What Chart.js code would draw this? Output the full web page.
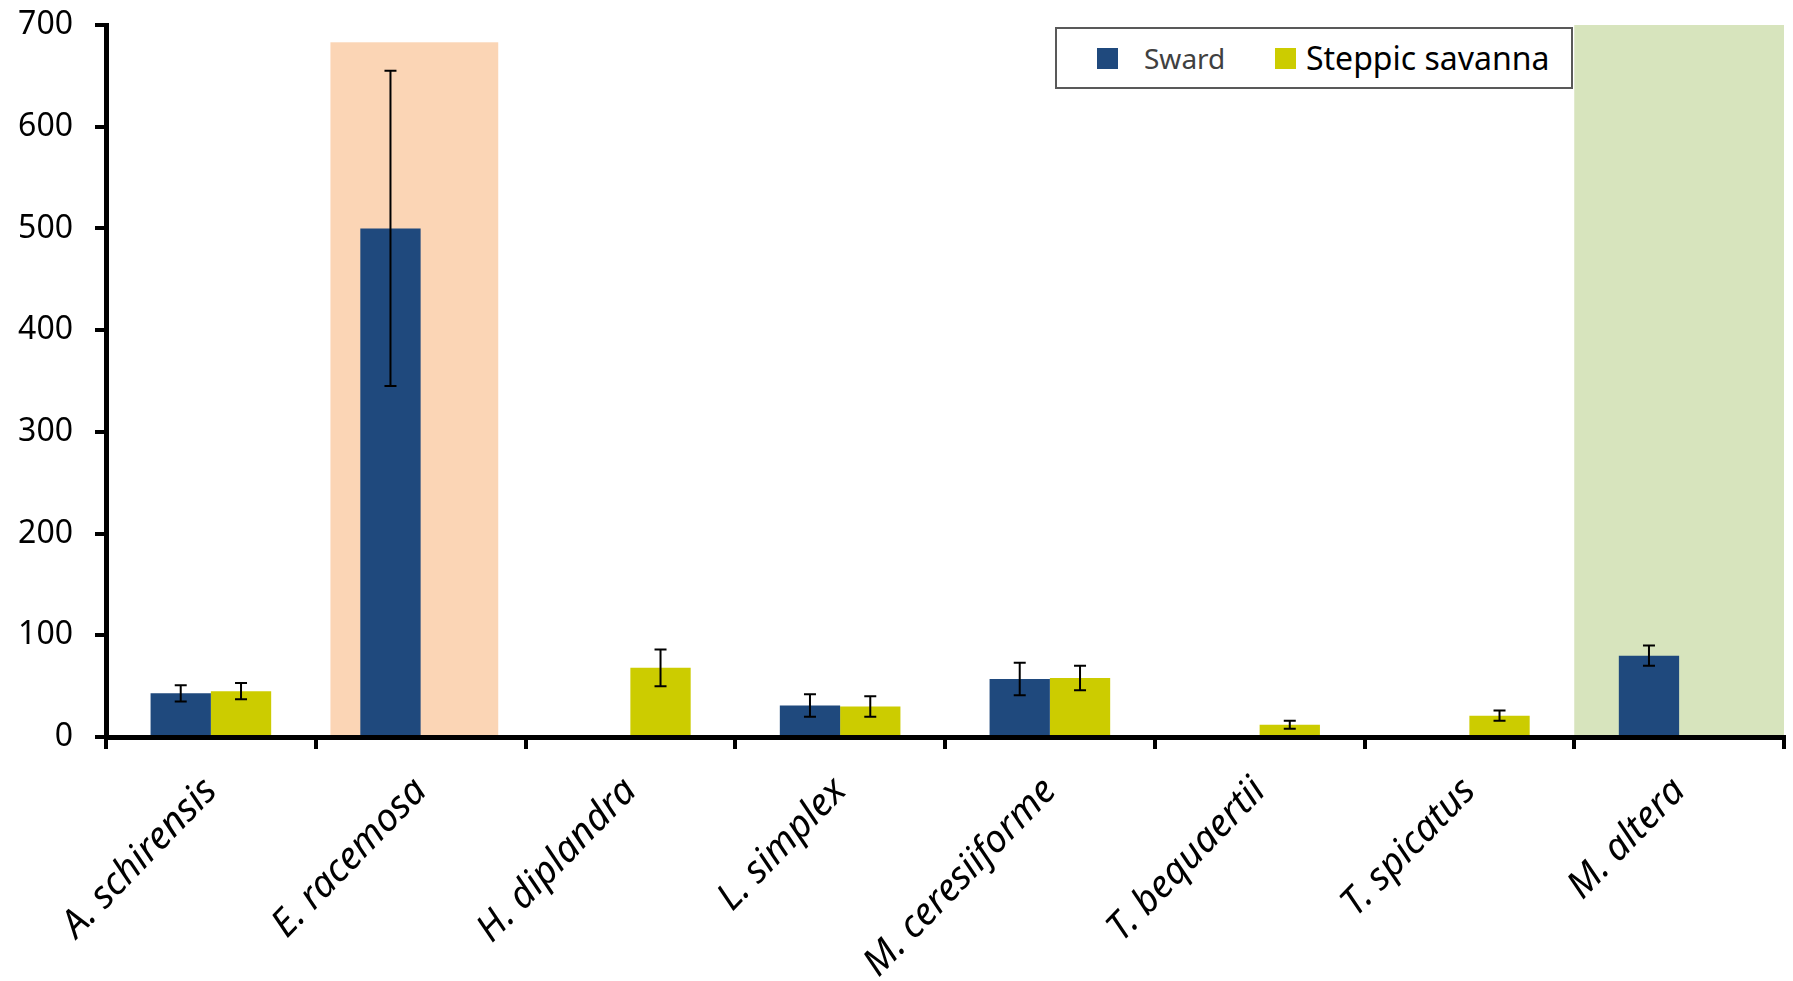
<!DOCTYPE html>
<html>
<head>
<meta charset="utf-8">
<script src="https://cdn.jsdelivr.net/npm/chart.js@4"></script>
<style>
  html, body { margin: 0; padding: 0; background: #fff; overflow: hidden; }
  #wrap { position: relative; width: 1793px; height: 981px; }
  #legend {
    position: absolute; left: 1055px; top: 27px; width: 514px; height: 58px;
    border: 2px solid #595959; background: #fff;
    font-family: 'Noto Sans', sans-serif;
  }
  #legend .sw { position: absolute; top: 19px; width: 21px; height: 21px; }
  #legend .lb { position: absolute; top: 0; height: 58px; line-height: 58px; white-space: nowrap; }
</style>
</head>
<body>
<div id="wrap">
  <canvas id="chart" width="1793" height="981"></canvas>
  <div id="legend">
    <div class="sw" style="left:40px;background:#1F497D"></div>
    <div class="lb" style="left:87px;font-size:28px;color:#404040">Sward</div>
    <div class="sw" style="left:218px;background:#CCCC00"></div>
    <div class="lb" style="left:249px;font-size:32px;color:#000">Steppic savanna</div>
  </div>
</div>
<script>
// ===== Data =====
const species = ['A. schirensis', 'E. racemosa', 'H. diplandra', 'L. simplex',
  'M. ceresiiforme', 'T. bequaertii', 'T. spicatus', 'M. altera'];

const sward = [43, 500, null, 31, 57, null, null, 80];
const swardErr = [8, 155, 0, 11, 16, 0, 0, 10];

const steppic = [45, null, 68, 30, 58, 12, 21, null];
const steppicErr = [8, 0, 18, 10, 12, 4, 5, 0];

const yTicks = [0, 100, 200, 300, 400, 500, 600, 700];

// highlighted zones: from/to in category units, top in y units
const zoneFrom = [0.57, 6.5];
const zoneTo = [1.37, 7.5];
const zoneTop = [683, 700];
const zoneColors = ['#FBD5B5', '#D7E4BD'];

const FONT = "'Noto Sans', 'DejaVu Sans', sans-serif";

// ===== Plugins =====
const zonesPlugin = {
  id: 'zones',
  beforeDraw(chart) {
    const { ctx, scales: { x, y } } = chart;
    ctx.save();
    zoneFrom.forEach((from, i) => {
      const x0 = x.getPixelForValue(from);
      const x1 = x.getPixelForValue(zoneTo[i]);
      const y0 = y.getPixelForValue(zoneTop[i]);
      const y1 = y.getPixelForValue(0);
      ctx.fillStyle = zoneColors[i];
      ctx.fillRect(x0, y0, x1 - x0, y1 - y0);
    });
    ctx.restore();
  }
};

const errorBars = {
  id: 'errorBars',
  afterDatasetsDraw(chart) {
    const { ctx, scales: { y } } = chart;
    const errs = [swardErr, steppicErr];
    ctx.save();
    ctx.strokeStyle = '#000';
    ctx.lineWidth = 2;
    chart.data.datasets.forEach((ds, d) => {
      const meta = chart.getDatasetMeta(d);
      ds.data.forEach((v, i) => {
        if (v == null || !errs[d][i]) return;
        const bx = meta.data[i].x;
        const yt = y.getPixelForValue(v + errs[d][i]);
        const yb = y.getPixelForValue(v - errs[d][i]);
        const cap = 6;
        ctx.beginPath();
        ctx.moveTo(bx, yt); ctx.lineTo(bx, yb);
        ctx.moveTo(bx - cap, yt); ctx.lineTo(bx + cap, yt);
        ctx.moveTo(bx - cap, yb); ctx.lineTo(bx + cap, yb);
        ctx.stroke();
      });
    });
    ctx.restore();
  }
};

// ===== Chart =====
new Chart(document.getElementById('chart'), {
  type: 'bar',
  data: {
    labels: species,
    datasets: [
      { label: 'Sward', data: sward, backgroundColor: '#1F497D',
        categoryPercentage: 0.575, barPercentage: 1.0 },
      { label: 'Steppic savanna', data: steppic, backgroundColor: '#CCCC00',
        categoryPercentage: 0.575, barPercentage: 1.0 }
    ]
  },
  options: {
    responsive: false,
    animation: false,
    layout: { padding: { top: 25, right: 9, left: 0, bottom: 0 } },
    plugins: { legend: { display: false }, tooltip: { enabled: false } },
    scales: {
      x: {
        offset: true,
        grid: { display: true, offset: true, drawOnChartArea: false, drawTicks: true,
                tickLength: 12, color: '#000', lineWidth: 4 },
        border: { display: true, color: '#000', width: 5 },
        ticks: { color: '#000', autoSkip: false, minRotation: 46, maxRotation: 46,
                 padding: 20, font: { family: FONT, size: 38, style: 'italic' } },
        afterFit(s) {
          s.height = 244;
          s.paddingLeft = 0; s.paddingRight = 0;
        }
      },
      y: {
        min: 0, max: 700,
        afterBuildTicks(s) { s.ticks = yTicks.map(v => ({ value: v })); },
        grid: { drawOnChartArea: false, drawTicks: true, tickLength: 11,
                color: '#000', lineWidth: 4 },
        border: { display: true, color: '#000', width: 5 },
        ticks: { color: '#000', padding: 22, font: { family: FONT, size: 32 } },
        afterFit(s) {
          s.width = 106;
          s.paddingTop = 0; s.paddingBottom = 0;
        }
      }
    }
  },
  plugins: [zonesPlugin, errorBars]
});
</script>
</body>
</html>
